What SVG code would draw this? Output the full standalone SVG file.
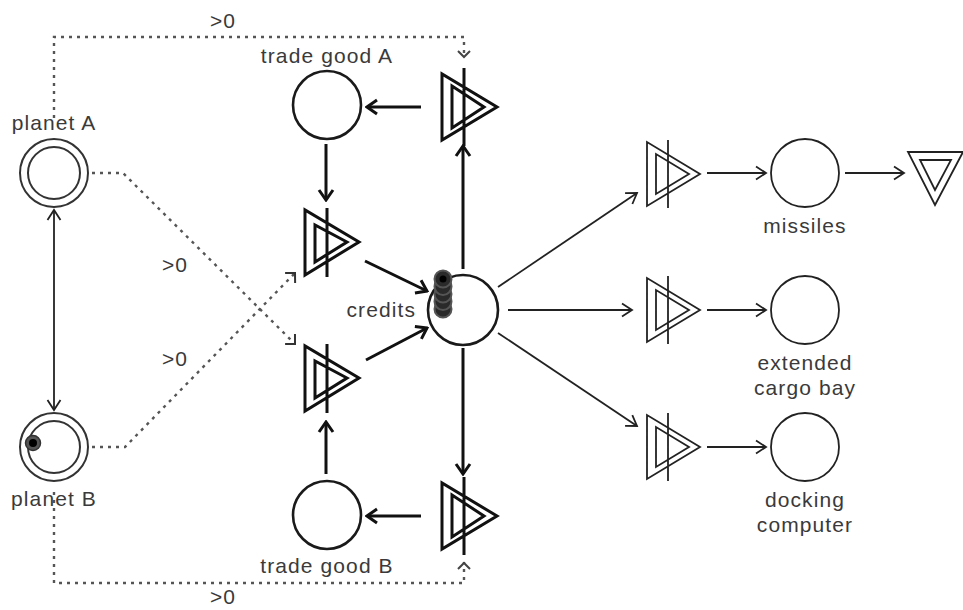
<svg xmlns="http://www.w3.org/2000/svg" width="963" height="610" viewBox="0 0 963 610">
<defs>
<style>
.t{font-family:"Liberation Sans",Arial,sans-serif;font-size:21px;letter-spacing:1.1px;fill:#3a3a3a;text-anchor:middle}
.pool{fill:#fff;stroke:#1a1a1a;stroke-width:2.6}
.poolt{fill:#fff;stroke:#222;stroke-width:1.8}
.planet{fill:#fff;stroke:#333;stroke-width:2}
.cv{fill:none;stroke:#111;stroke-width:3;stroke-linejoin:miter}
.cvt{fill:none;stroke:#222;stroke-width:1.8}
.thick{fill:none;stroke:#111;stroke-width:3}
.thin{fill:none;stroke:#222;stroke-width:1.8}
.dot{fill:none;stroke:#555;stroke-width:2.4;stroke-dasharray:3 5}
</style>
<marker id="ah" markerUnits="userSpaceOnUse" viewBox="0 0 14 18" refX="12" refY="9" markerWidth="14" markerHeight="18" orient="auto">
<path d="M2,2 L12,9 L2,16" fill="none" stroke="#111" stroke-width="3"/>
</marker>
<marker id="ahs" markerUnits="userSpaceOnUse" viewBox="0 0 14 18" refX="12" refY="9" markerWidth="14" markerHeight="18" orient="auto-start-reverse">
<path d="M2,2.5 L12,9 L2,15.5" fill="none" stroke="#222" stroke-width="1.8"/>
</marker>
<marker id="ahd" markerUnits="userSpaceOnUse" viewBox="0 0 14 18" refX="12" refY="9" markerWidth="14" markerHeight="18" orient="auto">
<path d="M5,3 L11,9 L5,15" fill="none" stroke="#444" stroke-width="2"/>
</marker>
<marker id="ahc" markerUnits="userSpaceOnUse" viewBox="0 0 14 18" refX="11" refY="9" markerWidth="14" markerHeight="18" orient="auto">
<path d="M4,2 L11,9 L4,16" fill="none" stroke="#333" stroke-width="2"/>
</marker>
</defs>

<g id="connectors">
<path class="dot" d="M54,118 V37 H464 V58" marker-end="url(#ahd)"/>
<path class="dot" d="M54,492 V583 H464 V562" marker-end="url(#ahd)"/>
<path class="dot" d="M92,173 H123 L295,344" marker-end="url(#ahc)"/>
<path class="dot" d="M92,447 H125 L295,273" marker-end="url(#ahc)"/>
<path d="M54,210 V410" fill="none" stroke="#222" stroke-width="1.8" marker-start="url(#ahs)" marker-end="url(#ahs)"/>
<path class="thick" d="M421,107 H367" marker-end="url(#ah)"/>
<path class="thick" d="M326,144 V200" marker-end="url(#ah)"/>
<path class="thick" d="M365,261 L427,291" marker-end="url(#ah)"/>
<path class="thick" d="M366,360 L427,328" marker-end="url(#ah)"/>
<path class="thick" d="M326,474 V422" marker-end="url(#ah)"/>
<path class="thick" d="M421,516 H367" marker-end="url(#ah)"/>
<path class="thick" d="M463,269 V146" marker-end="url(#ah)"/>
<path class="thick" d="M463,348 V474" marker-end="url(#ah)"/>
<path class="thin" d="M498,287 L637,193" marker-end="url(#ahs)"/>
<path class="thin" d="M508,310 H632" marker-end="url(#ahs)"/>
<path class="thin" d="M498,333 L637,426" marker-end="url(#ahs)"/>
<path class="thin" d="M707,173 H766" marker-end="url(#ahs)"/>
<path class="thin" d="M845,173 H904" marker-end="url(#ahs)"/>
<path class="thin" d="M707,310 H766" marker-end="url(#ahs)"/>
<path class="thin" d="M707,447 H766" marker-end="url(#ahs)"/>
</g>

<g id="planet-a">
<circle class="planet" cx="54" cy="173" r="34"/>
<circle class="planet" cx="54" cy="173" r="26"/>
<text class="t" x="54" y="130">planet A</text>
</g>

<g id="planet-b">
<circle class="planet" cx="54" cy="447" r="34"/>
<circle class="planet" cx="54" cy="447" r="26"/>
<circle cx="33" cy="443" r="7.5" fill="#555" stroke="#333" stroke-width="1.5"/>
<circle cx="33" cy="443" r="4" fill="#000"/>
<text class="t" x="54" y="506">planet B</text>
</g>

<g id="trade-good-a">
<circle class="pool" cx="327" cy="105" r="34"/>
<text class="t" x="327" y="63">trade good A</text>
</g>

<g id="trade-good-b">
<circle class="pool" cx="327" cy="515" r="34"/>
<text class="t" x="327" y="573">trade good B</text>
</g>

<g id="source-a">
<path class="cv" d="M442,74 V140 L497,107 Z M452,86 V128 L484,107 Z M464,68 V146"/>
</g>
<g id="source-b">
<path class="cv" d="M442,483 V549 L497,516 Z M452,495 V537 L484,516 Z M464,477 V555"/>
</g>

<g id="converter-1">
<path class="cv" d="M305,210 V275 L359,242 Z M315,225 V262 L347,242 Z M327,208 V277"/>
</g>
<g id="converter-2">
<path class="cv" d="M305,346 V411 L359,378 Z M315,361 V398 L347,378 Z M327,344 V413"/>
</g>

<g id="credits">
<circle class="pool" cx="463" cy="310" r="35"/>
<g fill="#2a2a2a" stroke="#555" stroke-width="2">
<circle cx="443" cy="309" r="8.5"/>
<circle cx="443" cy="301.5" r="8.5"/>
<circle cx="443" cy="294" r="8.5"/>
<circle cx="443" cy="286.5" r="8.5"/>
<circle cx="443" cy="279" r="8.5"/>
</g>
<circle cx="443" cy="279" r="3.5" fill="#000"/>
<text class="t" x="416" y="317" style="text-anchor:end">credits</text>
</g>

<g id="converter-missiles">
<path class="cvt" d="M647,142 V206 L700,174 Z M656,154 V194 L689,174 Z M668,140 V208"/>
</g>
<g id="converter-cargo">
<path class="cvt" d="M647,278 V342 L700,310 Z M656,290 V330 L689,310 Z M668,276 V344"/>
</g>
<g id="converter-docking">
<path class="cvt" d="M647,415 V479 L700,447 Z M656,427 V467 L689,447 Z M668,413 V481"/>
</g>

<g id="missiles">
<circle class="poolt" cx="805" cy="173" r="34"/>
<text class="t" x="805" y="233">missiles</text>
</g>
<g id="cargo-bay">
<circle class="poolt" cx="805" cy="310" r="34"/>
<text class="t" x="805" y="370">extended</text>
<text class="t" x="805" y="395">cargo bay</text>
</g>
<g id="docking-computer">
<circle class="poolt" cx="805" cy="447" r="34"/>
<text class="t" x="805" y="507">docking</text>
<text class="t" x="805" y="532">computer</text>
</g>

<g id="drain">
<path class="cvt" d="M908,152 H963 L935,205 Z M920,160 H951 L935,190 Z"/>
</g>

<g id="labels">
<text class="t" x="223" y="28">&gt;0</text>
<text class="t" x="175" y="272">&gt;0</text>
<text class="t" x="175" y="366">&gt;0</text>
<text class="t" x="223" y="604">&gt;0</text>
</g>
</svg>
